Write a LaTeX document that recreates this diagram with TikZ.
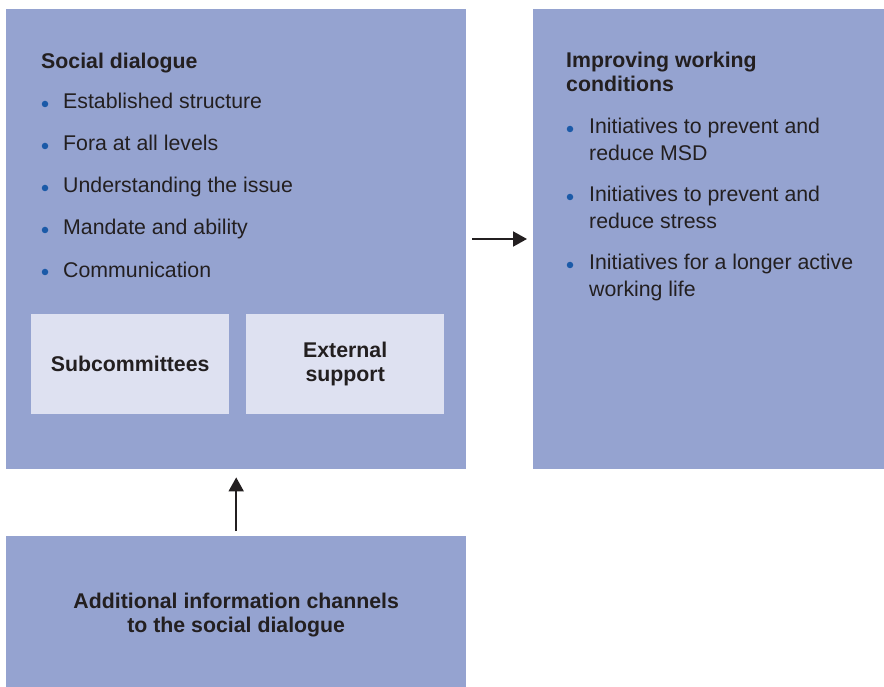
\documentclass[tikz,border=0pt]{standalone}
\usepackage{fontspec}
\setmainfont{Liberation Sans}
\usetikzlibrary{arrows.meta}
\definecolor{boxblue}{RGB}{149,163,208}
\definecolor{lightbox}{RGB}{222,225,241}
\definecolor{bulletblue}{RGB}{27,90,168}
\definecolor{txt}{RGB}{35,31,32}
\begin{document}
\begin{tikzpicture}[x=1pt,y=-1pt,
  bigbox/.style={fill=boxblue,draw=none,inner sep=0pt,anchor=north west},
  smallbox/.style={fill=lightbox,draw=none,inner sep=0pt,anchor=north west,
     minimum width=198pt,minimum height=100pt,text=txt,font=\fontsize{21.3}{24}\selectfont\bfseries,align=center},
  head/.style={anchor=base west,inner sep=0pt,text=txt,font=\fontsize{21.3}{24}\selectfont\bfseries,align=left},
  item/.style={anchor=base west,inner sep=0pt,text=txt,font=\fontsize{21.3}{27}\selectfont,align=left},
  dot/.style={circle,fill=bulletblue,inner sep=0pt,minimum size=6.5pt},
  arr/.style={draw=txt,line width=2pt,-{Triangle[length=14pt,width=15pt]}}]
\useasboundingbox (0,0) rectangle (884,687);
% boxes
\node[bigbox,minimum width=460pt,minimum height=460pt] (sd) at (6,9) {};
\node[bigbox,minimum width=351pt,minimum height=460pt] (iw) at (533,9) {};
\node[bigbox,minimum width=460pt,minimum height=151pt] (ai) at (6,536) {};
\node[text=txt,font=\fontsize{21.3}{24}\selectfont\bfseries,align=center,inner sep=0pt]
      (ait) at ([yshift=-3pt]ai.center) {Additional information channels\\to the social dialogue};
\node[smallbox] (sub) at (31,314) {Subcommittees};
\node[smallbox] (ext) at (246,314) {External\\support};
% left texts
\node[head] (sdh) at (41,69) {Social dialogue};
\foreach \t [count=\i] in {Established structure,Fora at all levels,Understanding the issue,Mandate and ability,Communication}{
  \node[item] (sdi\i) at (63,{109+42*(\i-1)}) {\t};
  \node[dot] (sdb\i) at (45,{104+42*(\i-1)}) {};
}
% right texts (base anchor = last line)
\node[head] (iwh) at (566,92) {Improving working\\conditions};
\node[item] (iw1) at (589,161) {Initiatives to prevent and\\reduce MSD};
\node[item] (iw2) at (589,229) {Initiatives to prevent and\\reduce stress};
\node[item] (iw3) at (589,297) {Initiatives for a longer active\\working life};
\node[dot] (iwb1) at (570,129) {};
\node[dot] (iwb2) at (570,197) {};
\node[dot] (iwb3) at (570,265) {};
% arrows
\draw[arr,shorten <=6pt,shorten >=6pt] (sd.east |- 0,239) -- (iw.west |- 0,239);
\draw[arr,shorten <=5pt,shorten >=8pt] (ai.north) -- (sd.south);
\end{tikzpicture}
\end{document}
